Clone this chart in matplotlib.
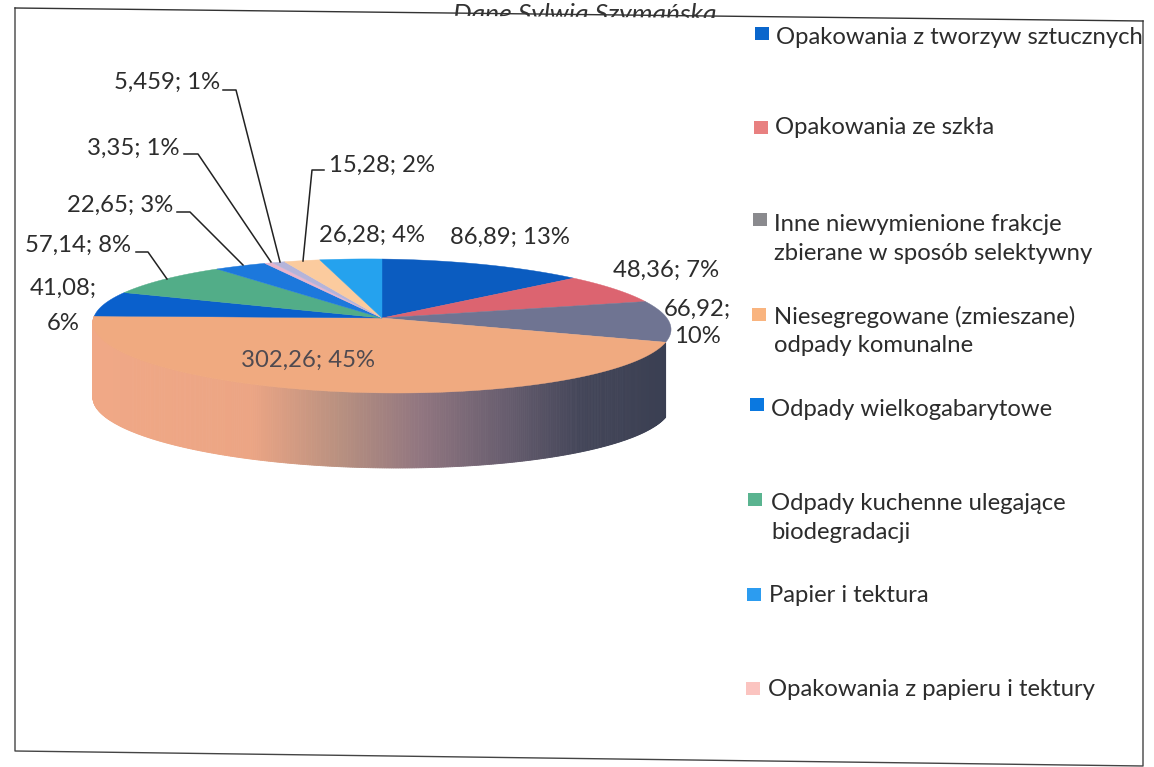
import numpy as np
import matplotlib
matplotlib.use("Agg")
import matplotlib.pyplot as plt
from matplotlib.patches import Polygon

plt.rcParams['font.family'] = ['Lato', 'DejaVu Sans']

values = [86.89, 48.36, 66.92, 302.26, 41.08, 57.14, 22.65, 3.35, 5.459, 15.28, 26.28]
value_text = ['86,89', '48,36', '66,92', '302,26', '41,08', '57,14', '22,65', '3,35', '5,459', '15,28', '26,28']
percent_text = ['13%', '7%', '10%', '45%', '6%', '8%', '3%', '1%', '1%', '2%', '4%']
slice_colors = ['#0b5cc0', '#dc6470', '#6f7492', '#f0aa80', '#0a60cc', '#52ad88', '#1c78dc',
                '#e8b4cc', '#b4b4da', '#fbcb9e', '#25a2ee']
legend_items = ['Opakowania z tworzyw sztucznych', 'Opakowania ze szkła',
                'Inne niewymienione frakcje\nzbierane w sposób selektywny',
                'Niesegregowane (zmieszane)\nodpady komunalne', 'Odpady wielkogabarytowe',
                'Odpady kuchenne ulegające\nbiodegradacji', 'Papier i tektura',
                'Opakowania z papieru i tektury']
legend_colors = ['#0a66cc', '#e88080', '#8a8a8e', '#f9b47f', '#0a78e0', '#5ab490', '#2c9cf0', '#fbc4c0']

W, H = 1154, 767
fig = plt.figure(figsize=(W / 100, H / 100), dpi=100)
ax = fig.add_axes([0, 0, 1, 1])
ax.set_xlim(0, W)
ax.set_ylim(H, 0)
ax.axis('off')

CX, CY, RX, RY, K, DEPTH, SHEAR = 382, 318, 287, 66, 0.119, 75, 0.012


def project(theta):
    """theta: clockwise radians from 12 o'clock -> pixel coords with perspective"""
    u, v = np.sin(theta), np.cos(theta)
    s = 1 / (1 + K * v)
    x = CX + RX * u * s
    return x, CY - RY * v * s + SHEAR * (x - CX)


edges = np.cumsum([0] + values) / sum(values) * 2 * np.pi

# side wall, drawn from the orange slice's span with a horizontal shading
stops_x = [94, 250, 340, 420, 500, 580, 668]
stops_c = np.array([matplotlib.colors.to_rgb(c) for c in
                    ['#f0a886', '#eca584', '#b89080', '#917680', '#6a5f70', '#444659', '#3a3f52']])
t = np.linspace(edges[3], edges[4], 400)
xs, ys = project(t)
for i in range(len(t) - 1):
    mx = (xs[i] + xs[i + 1]) / 2
    col = [np.interp(mx, stops_x, stops_c[:, j]) for j in range(3)]
    ax.add_patch(Polygon([(xs[i], ys[i]), (xs[i + 1], ys[i + 1]),
                          (xs[i + 1], ys[i + 1] + DEPTH), (xs[i], ys[i] + DEPTH)],
                         closed=True, fc=col, ec=col, lw=0.6, zorder=2))

# top face
for i, c in enumerate(slice_colors):
    t = np.linspace(edges[i], edges[i + 1], 120)
    px, py = project(t)
    ax.add_patch(Polygon(np.column_stack([np.r_[CX, px], np.r_[CY, py]]), closed=True,
                         fc=c, ec=c, lw=0.3, zorder=3))

# data labels
FS = 17.2
TC = '#2c2c2c'
lab = [v + '; ' + p for v, p in zip(value_text, percent_text)]
ax.text(450, 237, lab[0], fontsize=FS, color=TC, va='center', ha='left')
ax.text(613, 270, lab[1], fontsize=FS, color=TC, va='center', ha='left')
ax.text(697, 323, value_text[2] + ';\n' + percent_text[2], fontsize=FS, color=TC, va='center', ha='center', linespacing=1.4)
ax.text(308, 360, lab[3], fontsize=FS, color='#4f4a50', va='center', ha='center', zorder=5)
ax.text(63, 306, value_text[4] + ';\n' + percent_text[4], fontsize=FS, color=TC, va='center', ha='center', linespacing=1.85)
ax.text(25, 245, lab[5], fontsize=FS, color=TC, va='center', ha='left')
ax.text(67, 205, lab[6], fontsize=FS, color=TC, va='center', ha='left')
ax.text(87, 148, lab[7], fontsize=FS, color=TC, va='center', ha='left')
ax.text(114, 82, lab[8], fontsize=FS, color=TC, va='center', ha='left')
ax.text(329, 165, lab[9], fontsize=FS, color=TC, va='center', ha='left')
ax.text(319, 235, lab[10], fontsize=FS, color=TC, va='center', ha='left')

# leader lines
leaders = [[(136, 252), (148, 252), (167, 279)],
           [(177, 212), (190, 212), (243, 265)],
           [(184, 154), (198, 154), (271, 262)],
           [(223, 90), (236, 90), (280, 262)],
           [(324, 170), (312, 170), (303, 261)]]
for pts in leaders:
    ax.plot(*zip(*pts), color='#222222', lw=1.1, zorder=4)

# legend
leg_y = [37, 128, 239, 331, 409, 518, 595, 690]
leg_x = [776, 775, 774, 774, 771, 771, 769, 768]
box_y = [33, 127, 219, 314, 404, 499, 594, 688]
box_x = [762, 761, 760, 759, 757, 755, 754, 753]
for i, s in enumerate(legend_items):
    ax.text(leg_x[i], leg_y[i], s, fontsize=FS, color=TC, va='center', ha='left', linespacing=1.45)
    ax.add_patch(Polygon([(box_x[i] - 7, box_y[i] - 6), (box_x[i] + 7, box_y[i] - 6),
                          (box_x[i] + 7, box_y[i] + 7), (box_x[i] - 7, box_y[i] + 7)],
                         closed=True, fc=legend_colors[i], ec='none'))

# title, its lower part hidden by the chart's frame
ax.text(585, 14, 'Dane Sylwia Szymańska', fontsize=19, style='italic', color='#333333',
        ha='center', va='center', zorder=0.4)
ax.add_patch(Polygon([(300, 14.5), (1143, 21.5), (1143, 60), (300, 60)], closed=True,
                     fc='white', ec='none', zorder=0.5))

# frame
ax.plot([15, 15, 1143, 1143], [8, 751, 766, 21], color='#444444', lw=1.0, zorder=1)
ax.plot([15, 1143], [8, 21], color='#333333', lw=1.0, zorder=1)

fig.savefig('out.png', dpi=100)
